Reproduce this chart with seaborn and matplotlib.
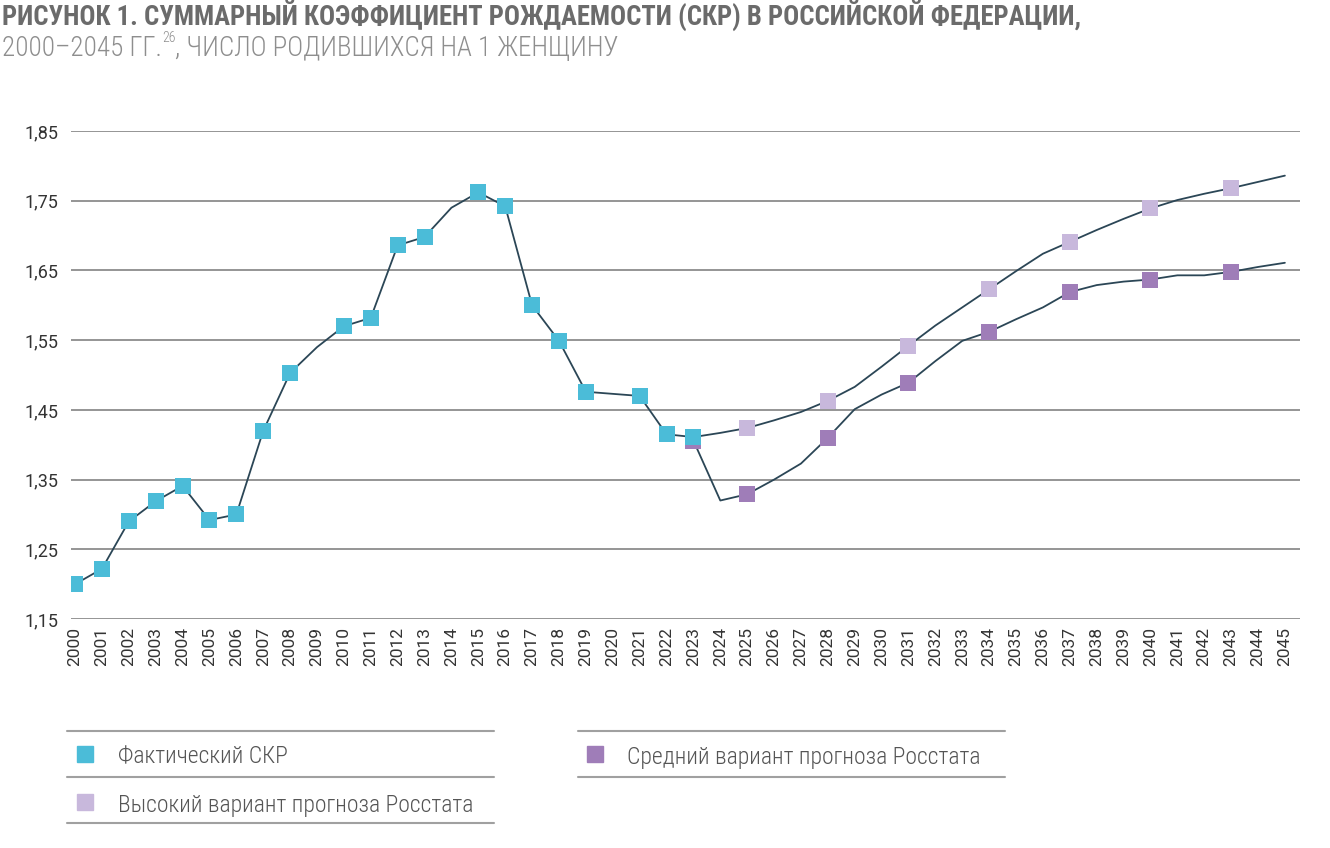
import numpy as np
import pandas as pd
import matplotlib
matplotlib.use("Agg")
import matplotlib.pyplot as plt
from matplotlib.lines import Line2D
import seaborn as sns

# фактический СКР
years_fact = list(range(2000, 2024))
fact = [1.200, 1.222, 1.290, 1.319, 1.341, 1.292, 1.300, 1.420, 1.503, 1.540,
        1.570, 1.582, 1.686, 1.698, 1.740, 1.762, 1.742, 1.600, 1.549, 1.476,
        1.473, 1.470, 1.415, 1.411]
fact_marker_years = [y for y in years_fact if y not in (2009, 2014, 2020)]

# прогнозы Росстата
years_fc = list(range(2023, 2046))
medium = [1.406, 1.320, 1.329, 1.350, 1.373, 1.410, 1.451, 1.472, 1.489, 1.520,
          1.549, 1.562, 1.580, 1.597, 1.619, 1.629, 1.634, 1.637, 1.643, 1.643,
          1.648, 1.655, 1.661]
high = [1.411, 1.417, 1.424, 1.435, 1.447, 1.463, 1.483, 1.512, 1.542, 1.571,
        1.597, 1.623, 1.649, 1.674, 1.691, 1.708, 1.724, 1.739, 1.751, 1.760,
        1.768, 1.777, 1.786]
fc_marker_years = [2025, 2028, 2031, 2034, 2037, 2040, 2043]

y_ticks = [1.15, 1.25, 1.35, 1.45, 1.55, 1.65, 1.75, 1.85]

legend_labels = ["Фактический СКР", "Высокий вариант прогноза Росстата",
                 "Средний вариант прогноза Росстата"]

C_FACT = "#4bbcd8"
C_HIGH = "#c8b8dc"
C_MED = "#9f7db8"
C_LINE = "#2b4656"
C_GRID = "#8c8c8c"

COND = ['Roboto Condensed', 'PT Sans Narrow', 'Fira Sans Condensed', 'DejaVu Sans']
ROBO = ['Roboto', 'DejaVu Sans']

sns.set_theme(style="white")
plt.rcParams['font.family'] = COND

df_fact = pd.DataFrame({"year": years_fact, "v": fact})
df_med = pd.DataFrame({"year": years_fc, "v": medium})
df_high = pd.DataFrame({"year": years_fc, "v": high})

fig = plt.figure(figsize=(13.3, 8.48), dpi=100)
ax = fig.add_axes([0.0534, 0.270, 0.924, 0.5755])

for y in y_ticks:
    ax.axhline(y, color=C_GRID, lw=1.3, zorder=0)

for d in (df_fact, df_med, df_high):
    sns.lineplot(data=d, x="year", y="v", ax=ax, color=C_LINE, lw=1.3, zorder=2)

msize = 145
med_m = df_med[df_med.year.isin([2023] + fc_marker_years)]
high_m = df_high[df_high.year.isin(fc_marker_years)]
fact_m = df_fact[df_fact.year.isin(fact_marker_years)]
sns.scatterplot(data=med_m, x="year", y="v", ax=ax, marker="s", s=msize,
                color=C_MED, linewidth=0, zorder=3)
sns.scatterplot(data=high_m, x="year", y="v", ax=ax, marker="s", s=msize,
                color=C_HIGH, linewidth=0, zorder=3)
sns.scatterplot(data=fact_m, x="year", y="v", ax=ax, marker="s", s=msize,
                color=C_FACT, linewidth=0, zorder=4)

ax.set_xlim(1999.85, 2045.56)
ax.set_ylim(1.15, 1.85)
ax.set_yticks(y_ticks)
ax.set_yticklabels([f"{t:.2f}".replace(".", ",") for t in y_ticks],
                   family=ROBO, fontsize=13, color="#333333")
ax.set_xticks(range(2000, 2046))
ax.set_xticklabels([str(y) for y in range(2000, 2046)], rotation=90,
                   family=ROBO, fontsize=12.5, color="#333333")
ax.tick_params(axis="y", length=0, pad=9)
ax.tick_params(axis="x", length=0, pad=6)
ax.set_xlabel("")
ax.set_ylabel("")
sns.despine(ax=ax, left=True, bottom=True)
ax.set_facecolor("none")

# заголовок
fig.text(0.0015, 0.982, "РИСУНОК 1. СУММАРНЫЙ КОЭФФИЦИЕНТ РОЖДАЕМОСТИ (СКР) В РОССИЙСКОЙ ФЕДЕРАЦИИ,",
         fontsize=19.2, fontweight="bold", color="#6b6b6b", va="center", ha="left")
t1 = fig.text(0.0015, 0.943, "2000–2045 ГГ.", fontsize=19.5, fontweight="light",
              color="#8e8e8e", va="center", ha="left")
fig.canvas.draw()
r = fig.canvas.get_renderer()
bb = t1.get_window_extent(r)
x1 = bb.x1 / fig.bbox.width
t2 = fig.text(x1, 0.955, "26", fontsize=10, fontweight="light", color="#8e8e8e",
              va="center", ha="left")
bb2 = t2.get_window_extent(r)
x2 = bb2.x1 / fig.bbox.width
fig.text(x2, 0.943, ", ЧИСЛО РОДИВШИХСЯ НА 1 ЖЕНЩИНУ", fontsize=19.5, fontweight="light",
         color="#8e8e8e", va="center", ha="left")

# легенда
for yy in (0.138, 0.0837, 0.0295):
    fig.add_artist(Line2D([0.0504, 0.3714], [yy, yy], transform=fig.transFigure,
                          color="#a0a0a0", lw=1.5))
for yy in (0.138, 0.0837):
    fig.add_artist(Line2D([0.4346, 0.7556], [yy, yy], transform=fig.transFigure,
                          color="#a0a0a0", lw=1.5))

leg = [(0.0639, 0.111, C_FACT, legend_labels[0]),
       (0.0639, 0.054, C_HIGH, legend_labels[1]),
       (0.447, 0.111, C_MED, legend_labels[2])]
for mx, my, c, lab in leg:
    fig.add_artist(Line2D([mx], [my], transform=fig.transFigure, marker="s",
                          markersize=11, color=c, lw=0))
    fig.text(mx + 0.0248, my - 0.004, lab, fontsize=17, fontweight="light",
             color="#555555", va="center", ha="left")

fig.savefig("out.png", dpi=100)
